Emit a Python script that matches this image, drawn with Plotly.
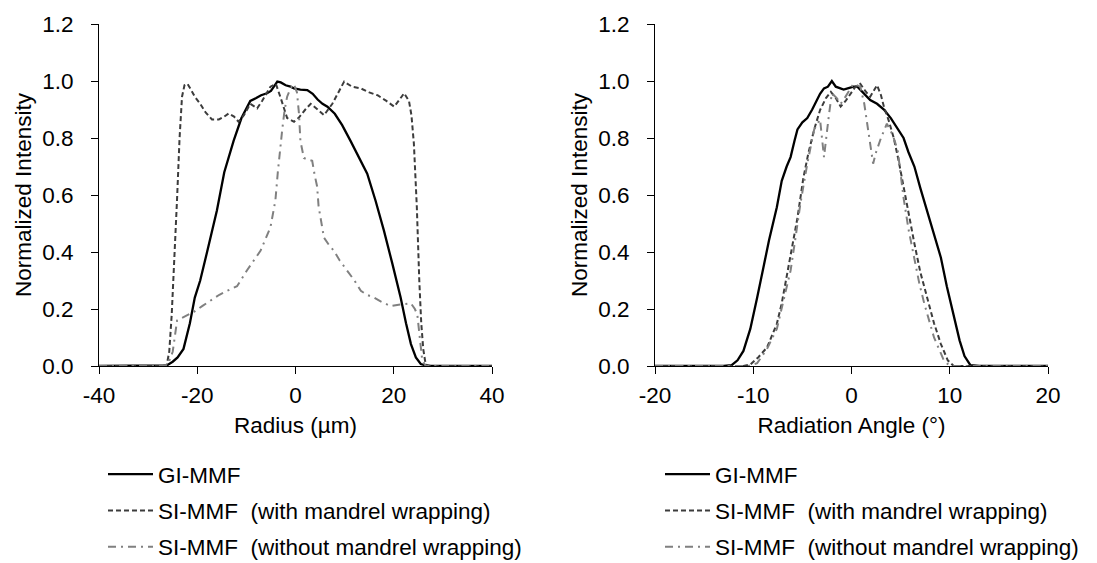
import plotly.graph_objects as go

# ---------------- Left panel: near-field profile vs radius ----------------
rad_gi_x = [-40, -30, -27, -26.2, -25, -24, -22.8, -21.5, -20.5, -19.4, -18, -16, -14.5, -12.6, -11,
            -9.2, -8, -7, -5.8, -5, -4.4, -3.7, -3, -2, -1, -0.3, 1, 2.4, 3.5, 4.5, 5.5, 6.5, 8,
            9.5, 11.2, 13, 14.6, 16.3, 18, 19.7, 21.4, 22.5, 23.5, 24.5, 25.5, 27, 40]
rad_gi_y = [0, 0, 0, 0.002, 0.015, 0.03, 0.06, 0.15, 0.24, 0.30, 0.40, 0.546, 0.68, 0.79, 0.87,
            0.93, 0.94, 0.95, 0.957, 0.965, 0.98, 0.998, 0.995, 0.985, 0.98, 0.974, 0.97, 0.968,
            0.955, 0.935, 0.92, 0.91, 0.885, 0.845, 0.79, 0.73, 0.675, 0.58, 0.475, 0.36, 0.24,
            0.15, 0.077, 0.03, 0.007, 0, 0]

rad_siw_x = [-40, -27, -26.2, -25.7, -25.2, -24.6, -24.1, -23.6, -23.1, -22.6, -22.0, -21.3, -20.5,
             -19.4, -18.3, -17.0, -15.6, -14.5, -13.6, -12.5, -11.6, -10.5, -9.2, -7.8, -6.8, -5.1,
             -4.0, -3.0, -1.7, -0.3, 0.6, 2.0, 3.1, 4.5, 5.8, 7.5, 8.8, 9.9, 11.5, 13.3, 15.0, 16.7,
             18.5, 20.1, 21.2, 22.1, 23.1, 23.6, 24.1, 24.7, 25.2, 25.6, 26.0, 26.5, 27.5, 40]
rad_siw_y = [0, 0, 0.005, 0.05, 0.18, 0.38, 0.59, 0.8, 0.945, 0.985, 0.99, 0.97, 0.945,
             0.92, 0.89, 0.865, 0.865, 0.875, 0.886, 0.875, 0.857, 0.88, 0.92, 0.904, 0.93, 0.98,
             0.99, 0.94, 0.87, 0.857, 0.87, 0.9, 0.92, 0.9, 0.88, 0.92, 0.96, 0.998, 0.98, 0.974,
             0.96, 0.95, 0.93, 0.91, 0.935, 0.957, 0.93, 0.88, 0.78, 0.557, 0.3, 0.15, 0.06, 0.005,
             0, 0]

rad_sio_x = [-40, -27, -26, -25, -24.1, -22.5, -20.7, -19, -17.3, -15.5, -13.9, -11.9, -9.9, -8.5,
             -7.1, -5.1, -4.1, -3.6, -3.1, -2.7, -2.2, -1.7, -1, -0.35, 0.3, 0.7, 1.0, 1.7, 2.4, 3.4,
             3.9, 4.4, 4.7, 5.8, 7, 7.8, 9, 10.5, 12, 13.3, 14.5, 16.0, 17.5, 19.4, 21, 23.5, 24.3,
             24.8, 25.3, 25.8, 26.5, 40]
rad_sio_y = [0, 0, 0.005, 0.05, 0.16, 0.175, 0.19, 0.21, 0.23, 0.25, 0.264, 0.28, 0.335, 0.37,
             0.405, 0.487, 0.58, 0.68, 0.77, 0.83, 0.9, 0.945, 0.975, 0.99, 0.96, 0.887, 0.79,
             0.73, 0.725, 0.72, 0.67, 0.63, 0.56, 0.45, 0.42, 0.405, 0.37, 0.335, 0.3, 0.264, 0.25,
             0.24, 0.225, 0.21, 0.215, 0.22, 0.2, 0.18, 0.1, 0.02, 0, 0]

# ---------------- Right panel: far-field profile vs radiation angle ----------------
ang_gi_x = [-20, -13, -12.2, -11.6, -11.0, -10.3, -9.6, -9.0, -8.4, -7.6, -7.1, -6.6, -6.2, -5.8,
            -5.5, -5.0, -4.5, -4.0, -3.5, -3.2, -2.8, -2.4, -2.0, -1.6, -1.2, -0.8, -0.3, 0.2, 0.6,
            1.0, 1.5, 1.9, 2.6, 3.3, 4.0, 4.7, 5.3, 5.8, 6.4, 7.0, 7.7, 8.4, 9.1, 9.7, 10.4, 11.0,
            11.5, 12.1, 13, 20]
ang_gi_y = [0, 0, 0.003, 0.02, 0.053, 0.13, 0.24, 0.34, 0.44, 0.557, 0.65, 0.70, 0.733, 0.79,
            0.83, 0.855, 0.87, 0.9, 0.933, 0.955, 0.974, 0.98, 1.0, 0.98, 0.975, 0.97, 0.975, 0.98,
            0.98, 0.965, 0.945, 0.933, 0.92, 0.9, 0.87, 0.83, 0.80, 0.75, 0.70, 0.625, 0.546, 0.46,
            0.38, 0.28, 0.18, 0.09, 0.035, 0.003, 0, 0]

ang_siw_x = [-20, -11, -10.3, -9.5, -8.6, -7.6, -7.1, -6.6, -6.0, -5.5, -4.9, -4.4, -3.8, -3.2,
             -2.6, -2.1, -1.6, -1.1, -0.6, -0.1, 0.4, 0.9, 1.4, 1.9, 2.3, 2.6, 3.0, 3.3, 3.8, 4.3,
             4.8, 5.3, 5.8, 6.4, 7.0, 7.7, 8.4, 9.1, 9.8, 10.4, 20]
ang_siw_y = [0, 0, 0.005, 0.03, 0.065, 0.148, 0.22, 0.31, 0.42, 0.52, 0.66, 0.745, 0.83, 0.898,
             0.94, 0.962, 0.94, 0.91, 0.93, 0.957, 0.98, 0.99, 0.965, 0.945, 0.97, 0.985, 0.95,
             0.91, 0.86, 0.80, 0.72, 0.63, 0.53, 0.43, 0.33, 0.24, 0.15, 0.077, 0.02, 0, 0]

ang_sio_x = [-20, -10.5, -9.6, -8.6, -7.6, -6.9, -6.2, -5.7, -5.2, -4.5, -3.8, -3.2, -2.8, -2.3,
             -2.0, -1.5, -1.1, -0.7, -0.4, 0.2, 0.9, 1.3, 1.6, 2.2, 2.5, 3.0, 3.6, 4.2, 4.7, 5.3,
             5.8, 6.4, 6.9, 7.4, 8.4, 9.4, 10, 20]
ang_sio_y = [0, 0, 0.01, 0.06, 0.13, 0.23, 0.335, 0.45, 0.57, 0.71, 0.83, 0.865, 0.733, 0.88,
             0.957, 0.94, 0.92, 0.94, 0.957, 0.99, 0.98, 0.92, 0.85, 0.71, 0.75, 0.80, 0.85, 0.81,
             0.757, 0.59, 0.48, 0.38, 0.29, 0.22, 0.1, 0.02, 0, 0]

names = ["GI-MMF",
         "SI-MMF\u00a0 (with mandrel wrapping)",
         "SI-MMF\u00a0 (without mandrel wrapping)"]
y_ticks = [0.0, 0.2, 0.4, 0.6, 0.8, 1.0, 1.2]
rad_ticks = [-40, -20, 0, 20, 40]
rad_ticktext = ["-40", "-20", "0", "20", "40"]
ang_ticks = [-20, -10, 0, 10, 20]
ang_ticktext = ["-20", "-10", "0", "10", "20"]

FONT = "Liberation Sans, Arial, sans-serif"
FS = 22.5
styles = [dict(color="#000000", width=2.3, dash="solid"),
          dict(color="#3c3c3c", width=2, dash="5px,3px"),
          dict(color="#808080", width=2, dash="8px,5px,2px,5px")]

W, H = 1097, 563
fig = go.Figure()

left_data = [(rad_gi_x, rad_gi_y), (rad_siw_x, rad_siw_y), (rad_sio_x, rad_sio_y)]
right_data = [(ang_gi_x, ang_gi_y), (ang_siw_x, ang_siw_y), (ang_sio_x, ang_sio_y)]

for i, (xs, ys) in enumerate(left_data):
    fig.add_trace(go.Scatter(x=xs, y=ys, mode="lines", name=names[i], line=styles[i],
                             xaxis="x", yaxis="y", legend="legend", legendgroup="L%d" % i))
for i, (xs, ys) in enumerate(right_data):
    fig.add_trace(go.Scatter(x=xs, y=ys, mode="lines", name=names[i], line=styles[i],
                             xaxis="x2", yaxis="y2", legend="legend2", legendgroup="R%d" % i))

axis_common = dict(showline=True, linecolor="#000000", linewidth=1, ticks="outside",
                   tickcolor="#000000", ticklen=7, tickwidth=1, showgrid=False, zeroline=False,
                   automargin=False,
                   tickfont=dict(family=FONT, size=FS, color="#000000"))
x_common = dict(ticklabelstandoff=2, **axis_common)
y_common = dict(ticklabelstandoff=13, **axis_common)

top, bottom = 24, 366
ydom = [1 - bottom / H, 1 - top / H]

legend_common = dict(yanchor="top", xanchor="left", y=1 - 453 / H,
                     font=dict(family=FONT, size=FS, color="#000000"),
                     bgcolor="rgba(0,0,0,0)", tracegroupgap=4, itemwidth=45)

fig.update_layout(
    width=W, height=H, autosize=False,
    margin=dict(l=0, r=0, t=0, b=0, autoexpand=False),
    paper_bgcolor="white", plot_bgcolor="white",
    font=dict(family=FONT, size=FS, color="#000000"),
    xaxis=dict(domain=[99 / W, 492 / W], range=[-40, 40], tickvals=rad_ticks,
               ticktext=rad_ticktext,
               title=dict(text="Radius (µm)", standoff=10, font=dict(size=FS)), anchor="y",
               **x_common),
    yaxis=dict(domain=ydom, range=[0, 1.2], tickvals=y_ticks, tickformat=".1f",
               title=dict(text="Normalized Intensity", standoff=4, font=dict(size=FS)),
               anchor="x", **y_common),
    xaxis2=dict(domain=[655 / W, 1048 / W], range=[-20, 20], tickvals=ang_ticks,
                ticktext=ang_ticktext,
                title=dict(text="Radiation Angle (°)", standoff=10, font=dict(size=FS)),
                anchor="y2", **x_common),
    yaxis2=dict(domain=ydom, range=[0, 1.2], tickvals=y_ticks, tickformat=".1f",
                title=dict(text="Normalized Intensity", standoff=4, font=dict(size=FS)),
                anchor="x2", **y_common),
    legend=dict(x=103 / W, **legend_common),
    legend2=dict(x=660 / W, **legend_common),
    showlegend=True,
)

fig.write_html("out.html")
